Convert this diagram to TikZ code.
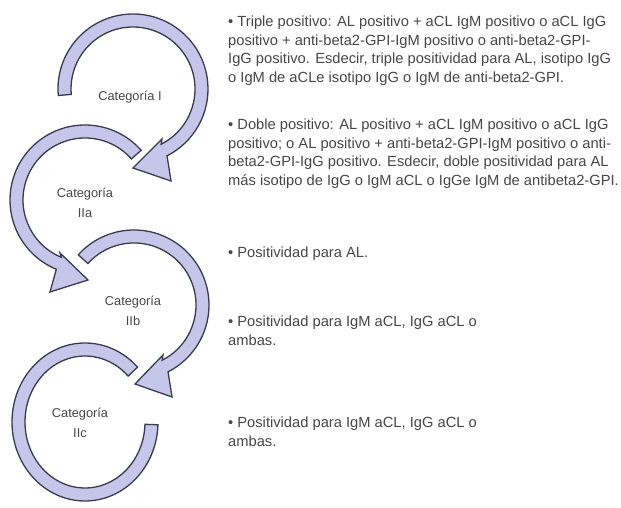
\documentclass[tikz,border=0pt]{standalone}
\usepackage{fontspec}
\setmainfont{Liberation Sans}
\usetikzlibrary{calc}
\definecolor{ringfill}{RGB}{198,198,234}
\definecolor{ringline}{RGB}{58,58,80}
\definecolor{txtgray}{RGB}{70,70,70}

\begin{document}
\begin{tikzpicture}[x=1pt,y=1pt,
  band/.style={draw=ringline,fill=ringfill,line width=1.3pt,line join=miter},
  cat/.style={align=center,font=\fontsize{12.8}{20}\selectfont,text=txtgray,inner sep=0pt},
  info/.style={anchor=base west,align=left,font=\fontsize{14.7}{18.5}\selectfont,text=txtgray,inner sep=0pt}]

\useasboundingbox (0,0) rectangle (621,508);

\coordinate (cI)   at (133,419);
\coordinate (cIIa) at (85,308);
\coordinate (cIIb) at (134,203);
\coordinate (cIIc) at (85,86);

\draw[band] ($(cIIc)+(44:73 and 79)$) arc[start angle=44,end angle=358,x radius=73,y radius=79]
   -- ($(cIIc)+(358:60 and 66)$) arc[start angle=358,end angle=44,x radius=60,y radius=66] -- cycle;

\draw[band] ($(cIIb)+(138:75)$) arc[start angle=138,end angle=-63,radius=75]
   -- ($(cIIb)+(38,-92)$) -- ($(cIIb)+(1,-79)$) -- ($(cIIb)+(29,-50)$)
   -- ($(cIIb)+(-63:62)$) arc[start angle=-63,end angle=138,radius=62] -- cycle;

\draw[band] ($(cIIa)+(41.5:75)$) arc[start angle=41.5,end angle=247.5,radius=75]
   -- ($(cIIa)+(-35,-92)$) -- ($(cIIa)+(3,-80)$) -- ($(cIIa)+(-25,-53)$)
   -- ($(cIIa)+(247.5:62)$) arc[start angle=247.5,end angle=41.5,radius=62] -- cycle;

\draw[band] ($(cI)+(185:75)$) arc[start angle=185,end angle=-63,radius=75]
   -- ($(cI)+(38,-92)$) -- ($(cI)+(0,-79)$) -- ($(cI)+(29,-50)$)
   -- ($(cI)+(-63:62)$) arc[start angle=-63,end angle=185,radius=62] -- cycle;

\node[cat] (catI)   at (130,411) {Categoría I};
\node[cat] (catIIa) at (85,305)  {Categoría\\IIa};
\node[cat] (catIIb) at (133,197) {Categoría\\IIb};
\node[cat] (catIIc) at (80,85)   {Categoría\\IIc};

\node[info] (txtI) at (228,425.5) {• Triple positivo: AL positivo + aCL IgM positivo o aCL IgG\\
positivo + anti-beta2-GPI-IgM positivo o anti-beta2-GPI-\\
IgG positivo. Esdecir, triple positividad para AL, isotipo IgG\\
o IgM de aCLe isotipo IgG o IgM de anti-beta2-GPI.};

\node[info] (txtIIa) at (228,322.5) {• Doble positivo: AL positivo + aCL IgM positivo o aCL IgG\\
positivo; o AL positivo + anti-beta2-GPI-IgM positivo o anti-\\
beta2-GPI-IgG positivo. Esdecir, doble positividad para AL\\
más isotipo de IgG o IgM aCL o IgGe IgM de antibeta2-GPI.};

\node[info] (txtIIb) at (228,250) {• Positividad para AL.};

\node[info] (txtIIc) at (228,162.5) {• Positividad para IgM aCL, IgG aCL o\\ambas.};

\node[info] (txtIId) at (228,61.5) {• Positividad para IgM aCL, IgG aCL o\\ambas.};

\end{tikzpicture}
\end{document}
